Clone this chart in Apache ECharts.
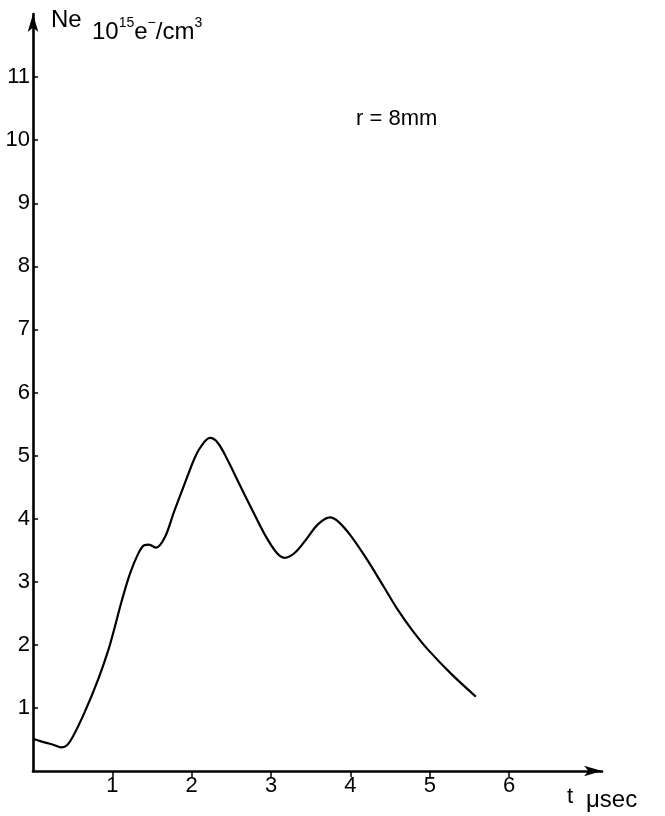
<!DOCTYPE html>
<html>
<head>
<meta charset="utf-8">
<script src="https://cdn.jsdelivr.net/npm/echarts@6/dist/echarts.min.js"></script>
<style>
html,body{margin:0;padding:0;background:#fff;}
#chart{width:665px;height:816px;}
</style>
</head>
<body>
<div id="chart"></div>
<script>
// Time in microseconds
var tValues = [0, 0.1, 0.2, 0.28, 0.35, 0.42, 0.5, 0.65, 0.82, 0.95, 1.03, 1.11, 1.22, 1.32, 1.40, 1.46, 1.55, 1.66, 1.78, 1.91, 2.04, 2.12, 2.23, 2.33, 2.46, 2.58, 2.75, 2.92, 3.07, 3.17, 3.30, 3.46, 3.59, 3.74, 3.84, 4.01, 4.22, 4.42, 4.60, 4.78, 4.98, 5.27, 5.58];
// Electron density Ne in 10^15 e-/cm^3
var neValues = [0.51, 0.47, 0.435, 0.405, 0.375, 0.40, 0.54, 0.93, 1.45, 1.92, 2.28, 2.66, 3.12, 3.43, 3.58, 3.59, 3.54, 3.70, 4.12, 4.55, 4.97, 5.15, 5.28, 5.20, 4.91, 4.60, 4.17, 3.75, 3.46, 3.38, 3.46, 3.70, 3.91, 4.02, 3.96, 3.72, 3.33, 2.92, 2.55, 2.23, 1.92, 1.54, 1.18];
var xTickLabels = [1, 2, 3, 4, 5, 6];
var yTickLabels = [1, 2, 3, 4, 5, 6, 7, 8, 9, 10, 11];

var seriesData = tValues.map(function (t, i) { return [t, neValues[i]]; });
var FONT = 'Liberation Sans';

var chart = echarts.init(document.getElementById('chart'));
chart.setOption({
  backgroundColor: '#ffffff',
  animation: false,
  grid: { left: 33, right: 63, top: 14, bottom: 45 },
  xAxis: {
    type: 'value',
    min: 0,
    max: 7.17,
    interval: 1,
    splitLine: { show: false },
    axisLine: { show: true, lineStyle: { color: '#000', width: 2.6 }, symbol: ['none', 'arrow'], symbolSize: [8, 18] },
    axisTick: { show: true, customValues: xTickLabels, length: 6, lineStyle: { color: '#000', width: 1.5 } },
    axisLabel: { customValues: xTickLabels, color: '#000', fontFamily: FONT, fontSize: 22, margin: 4 }
  },
  yAxis: {
    type: 'value',
    min: 0,
    max: 12,
    interval: 1,
    splitLine: { show: false },
    axisLine: { show: true, lineStyle: { color: '#000', width: 2.6 }, symbol: ['none', 'arrow'], symbolSize: [8, 18] },
    axisTick: { show: true, inside: true, customValues: yTickLabels, length: 5, lineStyle: { color: '#000', width: 1.5 } },
    axisLabel: { customValues: yTickLabels, color: '#000', fontFamily: FONT, fontSize: 22, margin: 3 }
  },
  series: [{
    type: 'line',
    data: seriesData,
    smooth: 0.35,
    showSymbol: false,
    lineStyle: { color: '#000', width: 2.2 }
  }],
  graphic: [
    { type: 'text', left: 51, top: 8, style: { text: 'Ne', fontFamily: FONT, fontSize: 24, fill: '#000' } },
    { type: 'text', left: 92, top: 16, style: {
        text: '{b|10}{s|15}{b|e}{s|−}{b|/cm}{s|3}',
        fontFamily: FONT, fill: '#000',
        rich: {
          b: { fontFamily: FONT, fontSize: 24, lineHeight: 28, verticalAlign: 'bottom', fill: '#000' },
          s: { fontFamily: FONT, fontSize: 14, lineHeight: 28, verticalAlign: 'top', fill: '#000' }
        }
    } },
    { type: 'text', left: 356, top: 108, style: { text: 'r = 8mm', fontFamily: FONT, fontSize: 22, fill: '#000' } },
    { type: 'text', left: 567, top: 786, style: { text: 't', fontFamily: FONT, fontSize: 22, fill: '#000' } },
    { type: 'text', left: 586, top: 788, style: { text: 'μsec', fontFamily: FONT, fontSize: 24, fill: '#000' } }
  ]
});
</script>
</body>
</html>
